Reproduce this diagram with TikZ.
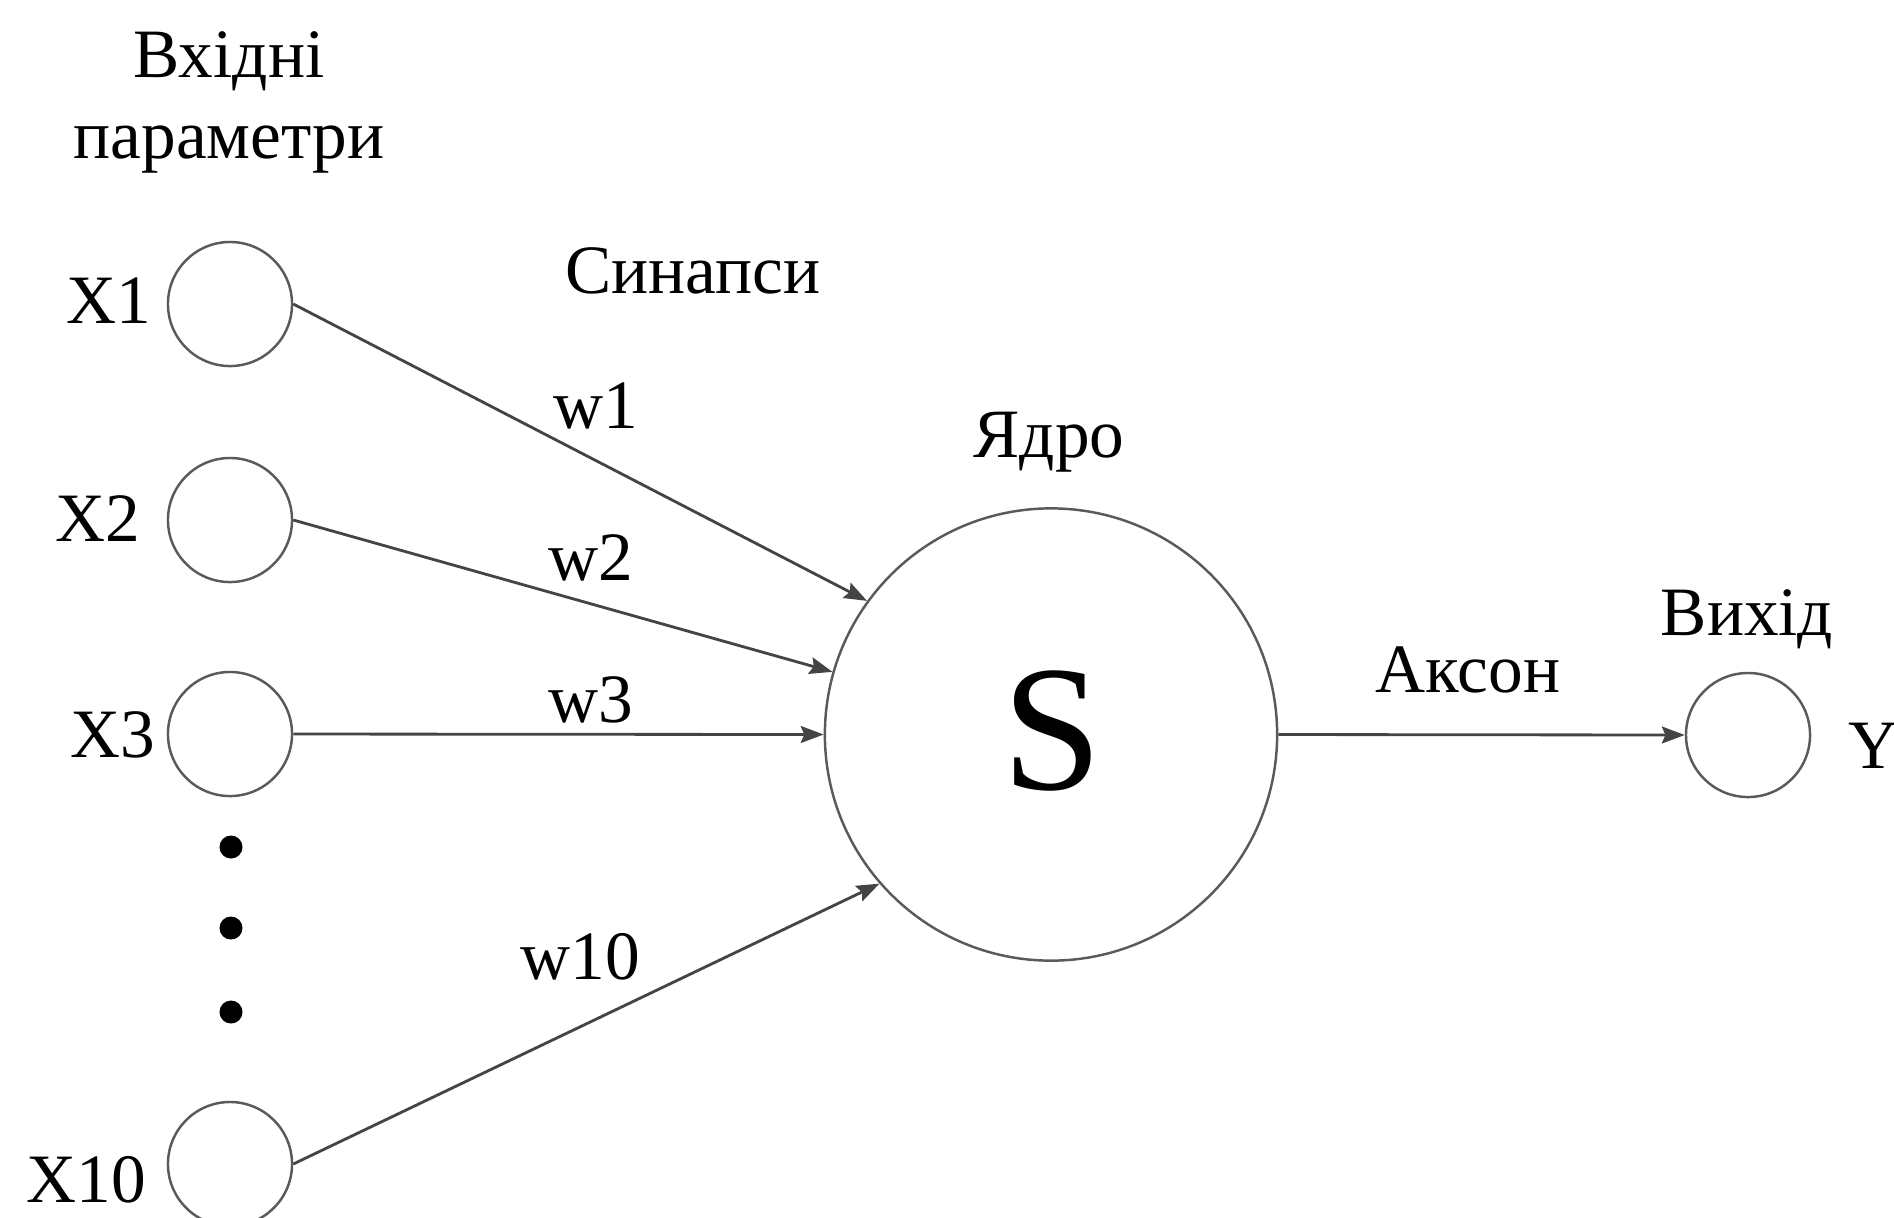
\documentclass[tikz,border=0pt]{standalone}
\usepackage{fontspec}
\setmainfont{Liberation Serif}
\usetikzlibrary{arrows.meta}
\definecolor{edgegray}{RGB}{68,68,68}
\definecolor{ringgray}{RGB}{90,90,90}
\begin{document}
\begin{tikzpicture}[x=0.01cm,y=-0.01cm,
  lbl/.style={inner sep=0pt, anchor=base, font=\fontsize{19.7}{23}\selectfont},
  inpt/.style={circle, draw=ringgray, line width=0.7pt, minimum size=1.24cm, inner sep=0pt},
  core/.style={circle, draw=ringgray, line width=0.7pt, minimum size=4.52cm, inner sep=0pt},
  dotmark/.style={circle, fill=black, minimum size=0.23cm, inner sep=0pt},
  synapse/.style={draw=edgegray, line width=0.8pt, -{Stealth[length=6.5pt,width=4.8pt,inset=1pt]}}
]
\useasboundingbox[fill=white] (0,0) rectangle (1894,1217);

% input neurons
\node[inpt] (x1) at (230,304) {};
\node[inpt] (x2) at (230,520) {};
\node[inpt] (x3) at (230,734) {};
\node[inpt] (x10) at (230,1164) {};
\node[dotmark] (d1) at (231,847) {};
\node[dotmark] (d2) at (231,928) {};
\node[dotmark] (d3) at (231,1012) {};

% summing core and output
\node[core] (s) at (1051,734.5) {};
\node[inner sep=0pt, anchor=base, font=\fontsize{51}{60}\selectfont] (sl) at (1052,789) {S};
\node[inpt] (y) at (1748,735) {};

% labels (a two-line node sits on the baseline of its last line)
\node[lbl, align=center] (inp) at (229,158) {Вхідні\\параметри};
\node[lbl] (lx1) at (108.5,323) {X1};
\node[lbl] (lx2) at (97.5,541) {X2};
\node[lbl] (lx3) at (112.5,757) {X3};
\node[lbl] (lx10) at (86.5,1202) {X10};
\node[lbl] (syn) at (693,293) {Синапси};
\node[lbl] (w1) at (596,428) {w1};
\node[lbl] (w2) at (591,580) {w2};
\node[lbl] (w3) at (591,722) {w3};
\node[lbl] (w10) at (580,979) {w10};
\node[lbl] (core) at (1049,457) {Ядро};
\node[lbl] (axon) at (1468,692) {Аксон};
\node[lbl] (outl) at (1747,635) {Вихід};
\node[lbl, anchor=base west] (ly) at (1848,768) {Y};

% connections
\draw[synapse] (x1.east) -- (s.144.2);
\draw[synapse] (x2.east) -- (s.164.2);
\draw[synapse] (x3.east) -- (s.west);
\draw[synapse] (x10.east) -- (s.221.7);
\draw[synapse] (s.east) -- (y.west);
\end{tikzpicture}
\end{document}
